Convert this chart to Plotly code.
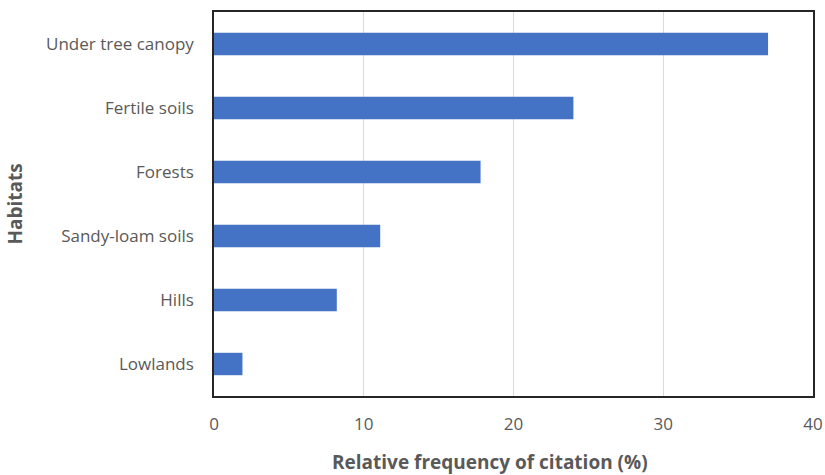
import plotly.graph_objects as go

habitats = ["Under tree canopy", "Fertile soils", "Forests", "Sandy-loam soils", "Hills", "Lowlands"]
frequency = [37.0, 24.0, 17.8, 11.1, 8.2, 1.9]
x_ticks = [0, 10, 20, 30, 40]

font_family = "Open Sans, Liberation Sans, sans-serif"
text_color = "#595959"

fig = go.Figure(
    go.Bar(
        y=habitats,
        x=frequency,
        orientation="h",
        width=0.35,
        marker=dict(color="#4472C4", line=dict(width=0)),
    )
)

fig.update_layout(
    width=825,
    height=475,
    margin=dict(l=214, r=12, t=12, b=79),
    plot_bgcolor="white",
    paper_bgcolor="white",
    showlegend=False,
    font=dict(family=font_family, color=text_color, size=17),
)

fig.update_xaxes(
    range=[0, 40],
    tickvals=x_ticks,
    automargin=False,
    showgrid=True,
    gridcolor="#d9d9d9",
    gridwidth=1,
    zeroline=False,
    showline=True,
    linecolor="#262626",
    linewidth=1.5,
    mirror=True,
    ticks="",
    ticklabelstandoff=12,
    tickfont=dict(size=17, color=text_color),
)

fig.update_yaxes(
    categoryorder="array",
    categoryarray=list(reversed(habitats)),
    automargin=False,
    showgrid=False,
    showline=True,
    linecolor="#262626",
    linewidth=1.5,
    mirror=True,
    ticks="",
    ticklabelstandoff=15,
    tickfont=dict(size=17, color=text_color),
    title=dict(
        text="<b>Habitats</b>",
        font=dict(size=19, color=text_color),
        standoff=18,
    ),
)

# x-axis title, placed slightly left of the plot centre
fig.add_annotation(
    text="<b>Relative frequency of citation (%)</b>",
    xref="paper", yref="paper",
    x=0.461, y=0,
    yshift=-66,
    xanchor="center", yanchor="middle",
    showarrow=False,
    font=dict(size=19, color=text_color, family=font_family),
)

fig.write_html("out.html")
